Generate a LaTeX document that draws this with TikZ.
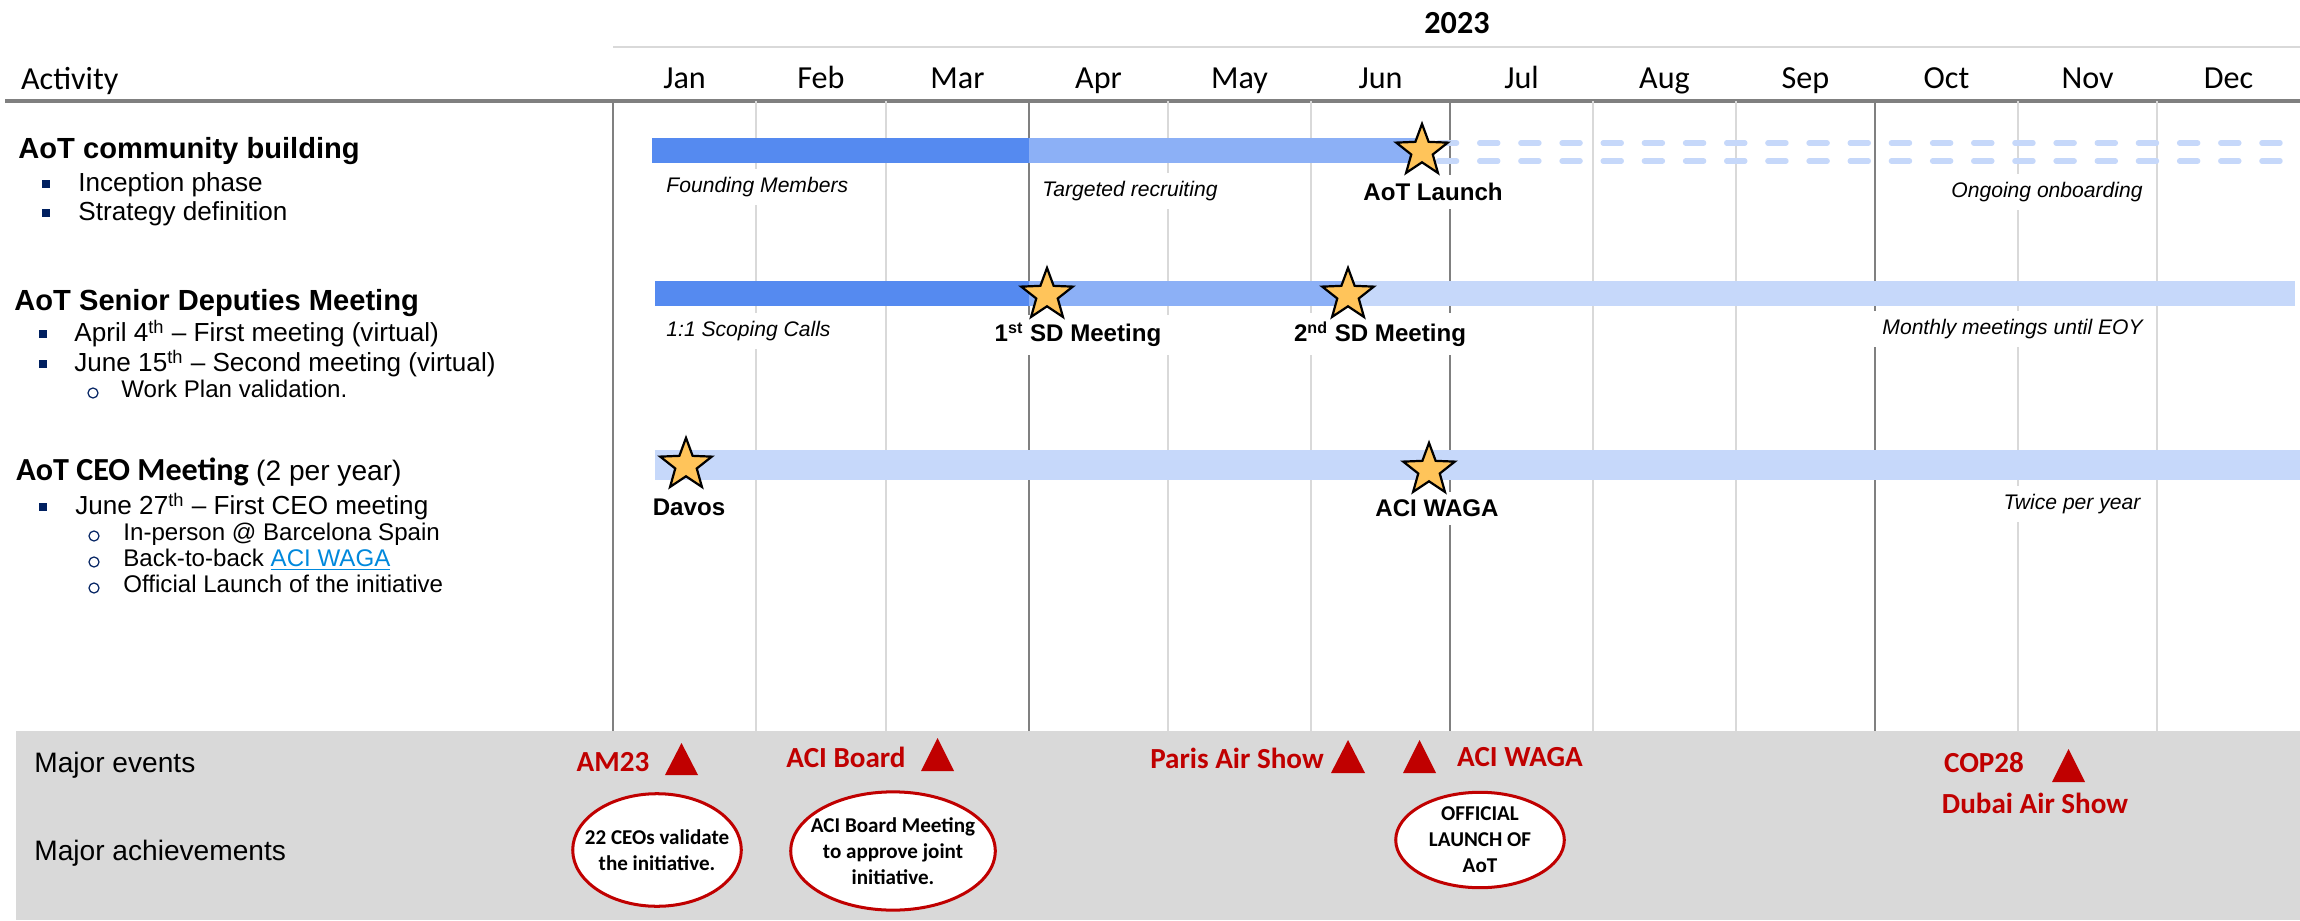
\documentclass[tikz,border=0pt]{standalone}
\usepackage{fontspec}
\setmainfont{Carlito}
\newfontfamily\arialfont{Liberation Sans}
\usetikzlibrary{shapes.geometric}

\definecolor{bardark}{RGB}{85,138,240}
\definecolor{barmid}{RGB}{140,176,246}
\definecolor{barlight}{RGB}{198,216,250}
\definecolor{starfill}{RGB}{255,196,90}
\definecolor{evred}{RGB}{192,0,0}
\definecolor{bulletblue}{RGB}{0,32,96}
\definecolor{linkblue}{RGB}{0,136,220}
\definecolor{griddark}{RGB}{128,128,128}
\definecolor{gridlight}{RGB}{217,217,217}

\begin{document}
\begin{tikzpicture}[x=1.75cm, y=1.75cm,
  month/.style={font=\fontsize{16}{19}\selectfont},
  heading/.style={anchor=mid west, inner sep=0pt, font=\arialfont\bfseries\fontsize{14.5}{17}\selectfont},
  item/.style={anchor=mid west, inner sep=0pt, font=\arialfont\fontsize{13}{15}\selectfont},
  subitem/.style={anchor=mid west, inner sep=0pt, font=\arialfont\fontsize{12}{14}\selectfont},
  sqbullet/.style={fill=bulletblue, minimum size=4pt, inner sep=0pt},
  circbullet/.style={circle, draw=bulletblue, line width=0.6pt, minimum size=5pt, inner sep=0pt},
  phase/.style={anchor=mid west, fill=white, inner sep=4pt, font=\arialfont\itshape\fontsize{10.5}{12}\selectfont},
  milestone/.style={star, star points=5, star point ratio=2.4, minimum size=27pt, inner sep=0pt, draw=black, line width=1.1pt, fill=starfill},
  mslabel/.style={anchor=mid, fill=white, inner sep=4pt, font=\arialfont\bfseries\fontsize{12}{14}\selectfont},
  event/.style={anchor=mid, text=evred, inner sep=0pt, font=\bfseries\fontsize{14.5}{17}\selectfont},
  achv/.style={ellipse, draw=evred, line width=1.5pt, fill=white, inner sep=0pt},
  achvtext/.style={align=center, inner sep=0pt, font=\bfseries\fontsize{10.5}{13}\selectfont}
]
\useasboundingbox (0,0) rectangle (23,9.2);

% Bottom band
\fill[gridlight] (0.16,0) rectangle (23,1.89);

% Header
\draw[gridlight, line width=1pt] (6.13,8.73) -- (23,8.73);
\draw[griddark, line width=1.8pt] (0.05,8.19) -- (23,8.19);
\node[font=\bfseries\fontsize{16}{19}\selectfont] (year) at (14.57,8.97) {2023};
\node[month, anchor=mid west] (activity) at (0.14,8.35) {Activity};
\foreach \m/\a/\b in {Jan/6.13/7.56, Feb/7.56/8.86, Mar/8.86/10.29, Apr/10.29/11.68,
    May/11.68/13.11, Jun/13.11/14.50, Jul/14.50/15.93, Aug/15.93/17.36,
    Sep/17.36/18.75, Oct/18.75/20.18, Nov/20.18/21.57, Dec/21.57/23.00}
  \node[month, anchor=mid] (\m) at ({(\a+\b)/2},8.36) {\m};

% Grid
\foreach \x in {7.56, 8.86, 11.68, 13.11, 15.93, 17.36, 20.18, 21.57}
  \draw[gridlight, line width=1pt] (\x,8.19) -- (\x,1.89);
\foreach \x in {6.13, 10.29, 14.50, 18.75}
  \draw[griddark, line width=0.8pt] (\x,8.19) -- (\x,1.89);

% Community building bar
\fill[bardark] (6.52,7.57) rectangle (10.29,7.82);
\fill[barmid] (10.29,7.57) rectangle (14.20,7.82);
\draw[barlight, line width=2.7pt, line cap=round, dash pattern=on 9pt off 11.5pt] (14.385,7.77) -- (23.1,7.77);
\draw[barlight, line width=2.7pt, line cap=round, dash pattern=on 9pt off 11.5pt] (14.385,7.59) -- (23.1,7.59);

% Senior deputies bar
\fill[bardark] (6.55,6.14) rectangle (10.29,6.39);
\fill[barmid] (10.29,6.14) rectangle (13.48,6.39);
\fill[barlight] (13.48,6.14) rectangle (22.95,6.39);

% CEO bar
\fill[barlight] (6.55,4.40) rectangle (23,4.70);

% Phase labels
\node[phase] (founding) at (6.58,7.32) {Founding Members};
\node[phase] (targeted) at (10.34,7.28) {Targeted recruiting};
\node[phase] (ongoing) at (19.43,7.27) {Ongoing onboarding};
\node[phase] (scoping) at (6.58,5.88) {1:1 Scoping Calls};
\node[phase] (monthly) at (18.74,5.90) {Monthly meetings until EOY};
\node[phase, anchor=mid] (twice) at (20.72,4.15) {Twice per year};

% Milestone labels
\node[mslabel] (launchlbl) at (14.33,7.24) {AoT Launch};
\node[mslabel] (sdonelbl) at (10.78,5.83) {1\textsuperscript{st} SD Meeting};
\node[mslabel] (sdtwolbl) at (13.80,5.83) {2\textsuperscript{nd} SD Meeting};
\node[mslabel] (davoslbl) at (6.89,4.09) {Davos};
\node[mslabel] (wagalbl) at (14.37,4.08) {ACI WAGA};

% Milestones
\node[milestone] (launch) at (14.22,7.69) {};
\node[milestone] (sdone) at (10.47,6.25) {};
\node[milestone] (sdtwo) at (13.48,6.25) {};
\node[milestone] (davos) at (6.86,4.55) {};
\node[milestone] (waga) at (14.29,4.50) {};

% Activities
\node[heading] (community) at (0.18,7.66) {AoT community building};
\node[sqbullet] at (0.46,7.36) {};
\node[item] (inception) at (0.78,7.33) {Inception phase};
\node[sqbullet] at (0.46,7.07) {};
\node[item] (strategy) at (0.78,7.04) {Strategy definition};

\node[heading] (deputies) at (0.14,6.14) {AoT Senior Deputies Meeting};
\node[sqbullet] at (0.43,5.86) {};
\node[item] (april) at (0.74,5.83) {April 4\textsuperscript{th} – First meeting (virtual)};
\node[sqbullet] at (0.43,5.56) {};
\node[item] (june) at (0.74,5.53) {June 15\textsuperscript{th} – Second meeting (virtual)};
\node[circbullet] at (0.93,5.27) {};
\node[subitem] (workplan) at (1.21,5.27) {Work Plan validation.};

\node[anchor=mid west, inner sep=0pt] (ceo) at (0.16,4.44)
  {\fontsize{16}{19}\selectfont\bfseries AoT CEO Meeting {\arialfont\mdseries\fontsize{14}{17}\selectfont(2 per year)}};
\node[sqbullet] at (0.43,4.13) {};
\node[item] (ceojune) at (0.75,4.10) {June 27\textsuperscript{th} – First CEO meeting};
\node[circbullet] at (0.94,3.84) {};
\node[subitem] (person) at (1.23,3.84) {In-person @ Barcelona Spain};
\node[circbullet] at (0.94,3.58) {};
\node[subitem] (backtoback) at (1.23,3.58) {Back-to-back {\color{linkblue}\underline{ACI WAGA}}};
\node[circbullet] at (0.94,3.32) {};
\node[subitem] (official) at (1.23,3.32) {Official Launch of the initiative};

% Major events
\node[item, font=\arialfont\fontsize{14}{17}\selectfont] (events) at (0.34,1.52) {Major events};
\node[item, font=\arialfont\fontsize{14}{17}\selectfont] (achievements) at (0.34,0.64) {Major achievements};

\node[event] (am) at (6.13,1.53) {AM23};
\fill[evred] (6.65,1.45) -- (6.98,1.45) -- (6.815,1.77) -- cycle;
\node[event] (board) at (8.46,1.57) {ACI Board};
\fill[evred] (9.21,1.49) -- (9.54,1.49) -- (9.375,1.82) -- cycle;
\node[event] (paris) at (12.37,1.56) {Paris Air Show};
\fill[evred] (13.31,1.47) -- (13.65,1.47) -- (13.48,1.80) -- cycle;
\fill[evred] (14.03,1.47) -- (14.36,1.47) -- (14.195,1.80) -- cycle;
\node[event] (wagaev) at (15.20,1.58) {ACI WAGA};
\node[event] (cop) at (19.84,1.52) {COP28};
\fill[evred] (20.52,1.38) -- (20.85,1.38) -- (20.685,1.71) -- cycle;
\node[event] (dubai) at (20.35,1.11) {Dubai Air Show};

% Achievements
\node[achv, minimum width=2.95cm, minimum height=1.97cm] (ceos) at (6.57,0.70) {};
\node[achvtext] at (ceos) {22 CEOs validate\\the initiative.};
\node[achv, minimum width=3.58cm, minimum height=2.07cm] (approve) at (8.93,0.69) {};
\node[achvtext] at (approve) {ACI Board Meeting\\to approve joint\\initiative.};
\node[achv, minimum width=2.95cm, minimum height=1.67cm] (launchach) at (14.80,0.80) {};
\node[achvtext] at (launchach) {OFFICIAL\\LAUNCH OF\\AoT};
\end{tikzpicture}
\end{document}
